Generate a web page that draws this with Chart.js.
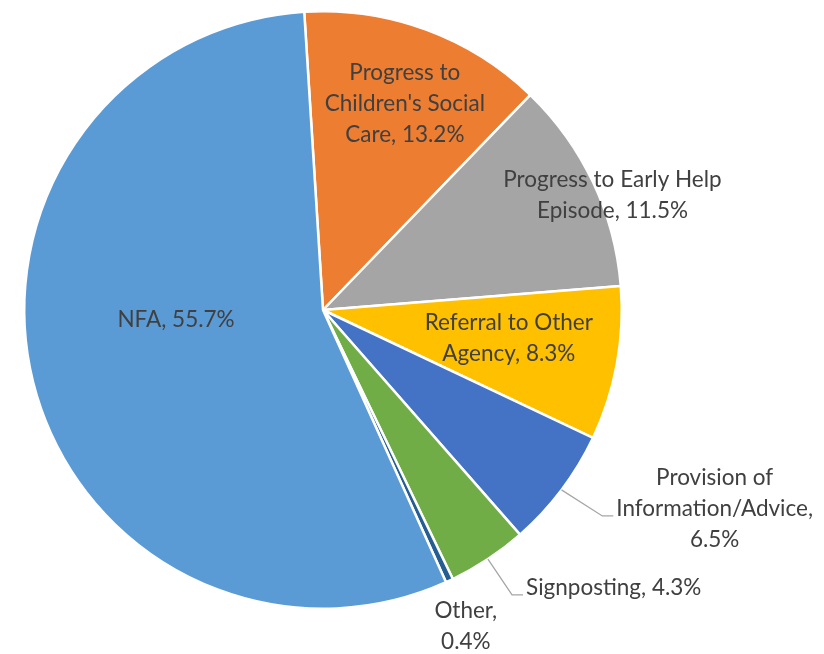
<!DOCTYPE html>
<html>
<head>
<meta charset="utf-8">
<script src="https://cdn.jsdelivr.net/npm/chart.js@4"></script>
<style>
  html, body { margin: 0; padding: 0; background: #ffffff; }
  #wrap { width: 824px; height: 654px; }
</style>
</head>
<body>
<div id="wrap"><canvas id="grafico" width="824" height="654"></canvas></div>
<script>
// data
const categorias = ["Progress to Children's Social Care", "Progress to Early Help Episode", "Referral to Other Agency", "Provision of Information/Advice", "Signposting", "Other", "NFA"];
const valores = [13.2, 11.5, 8.3, 6.5, 4.3, 0.4, 55.7];
const colores = ["#ED7D31", "#A5A5A5", "#FFC000", "#4472C4", "#70AD47", "#255E91", "#5B9BD5"];
// label lines as they wrap in the picture
const lineasEtiqueta = [
    ["Progress to", "Children's Social", "Care, 13.2%"],
    ["Progress to Early Help", "Episode, 11.5%"],
    ["Referral to Other", "Agency, 8.3%"],
    ["Provision of", "Information/Advice,", "6.5%"],
    ["Signposting, 4.3%"],
    ["Other,", "0.4%"],
    ["NFA, 55.7%"]
];

// label placement relative to the pie centre, in units of the radius
const posEtiqueta = [
    { x: 0.274, y: -0.692 },
    { x: 0.969, y: -0.385 },
    { x: 0.622, y: 0.094 },
    { x: 1.311, y: 0.666, guia: true },
    { x: 0.973, y: 0.930, guia: true },
    { x: 0.478, y: 1.060 },
    { x: -0.492, y: 0.033 }
];

const fuente = "22.5px Lato, 'Liberation Sans', sans-serif";
const altoLinea = 31;

const etiquetasPlugin = {
    id: "etiquetas",
    afterDatasetsDraw(chart) {
        const ctx = chart.ctx;
        const meta = chart.getDatasetMeta(0);
        ctx.save();
        ctx.font = fuente;
        ctx.textAlign = "center";
        ctx.textBaseline = "middle";
        meta.data.forEach(function (arco, i) {
            const r = arco.outerRadius;
            const p = posEtiqueta[i];
            const cx = arco.x + p.x * r;
            const cy = arco.y + p.y * r;
            const lineas = lineasEtiqueta[i];
            const y0 = cy - (lineas.length - 1) * altoLinea / 2;

            if (p.guia) {
                // leader line from the slice edge to the label
                const medio = (arco.startAngle + arco.endAngle) / 2;
                const sx = arco.x + Math.cos(medio) * r;
                const sy = arco.y + Math.sin(medio) * r;
                let ancho = 0;
                lineas.forEach(t => { ancho = Math.max(ancho, ctx.measureText(t).width); });
                const izq = cx - ancho / 2 - 3;
                const ly = cy + 7;
                ctx.strokeStyle = "#A6A6A6";
                ctx.lineWidth = 1.3;
                ctx.beginPath();
                ctx.moveTo(sx, sy);
                ctx.lineTo(izq - 11, ly);
                ctx.lineTo(izq, ly);
                ctx.stroke();
            }

            ctx.fillStyle = "#404040";
            lineas.forEach(function (t, k) {
                ctx.fillText(t, cx, y0 + k * altoLinea);
            });
        });
        ctx.restore();
    }
};

const ctx = document.getElementById("grafico").getContext("2d");

new Chart(ctx, {
    type: "pie",
    data: {
        labels: categorias,
        datasets: [{
            data: valores,
            backgroundColor: colores,
            borderColor: "#ffffff",
            borderWidth: 2.5
        }]
    },
    options: {
        responsive: false,
        animation: false,
        rotation: -3.6,
        layout: {
            padding: { left: 23, top: 10, right: 201, bottom: 44 }
        },
        plugins: {
            legend: { display: false },
            tooltip: { enabled: false }
        }
    },
    plugins: [etiquetasPlugin]
});
</script>
</body>
</html>
